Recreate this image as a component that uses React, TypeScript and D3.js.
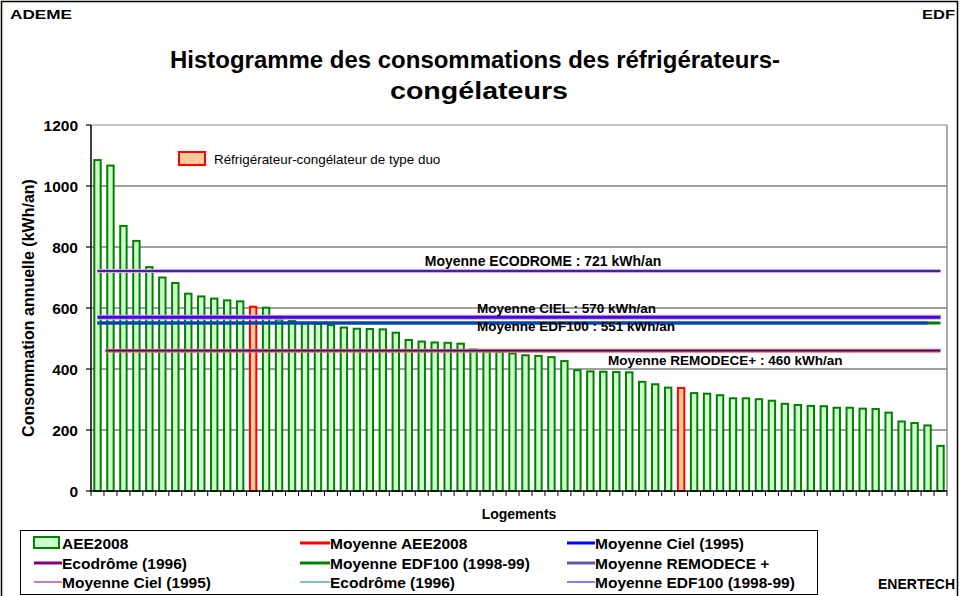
import React from "react";
import * as d3 from "d3";

const values: number[] = [
  1085, 1067, 869, 820, 734, 700, 682, 647, 638, 631, 625, 622, 604, 601, 562, 557,
  549, 548, 544, 536, 532, 531, 530, 519, 495, 490, 487, 486, 483, 464, 457, 456,
  451, 445, 443, 439, 426, 396, 392, 391, 390, 389, 358, 350, 339, 338, 321, 319,
  314, 304, 304, 301, 296, 286, 282, 279, 278, 273, 273, 270, 269, 257, 228, 223,
  215, 148,
];
const duoIndices: number[] = [12, 45];
const yTicks: number[] = [0, 200, 400, 600, 800, 1000, 1200];

const avgEcodrome = 721;
const avgCiel = 570;
const avgEdf100 = 551;
const avgRemodece = 460;

const legendRows: { label: string; kind: string; color: string }[][] = [
  [
    { label: "AEE2008", kind: "rect", color: "#008000" },
    { label: "Moyenne AEE2008", kind: "thick", color: "#ff0000" },
    { label: "Moyenne Ciel (1995)", kind: "thick", color: "#0000ff" },
  ],
  [
    { label: "Ecodrôme (1996)", kind: "thick", color: "#800080" },
    { label: "Moyenne EDF100 (1998-99)", kind: "thick", color: "#008000" },
    { label: "Moyenne REMODECE +", kind: "thick", color: "#5a5aa8" },
  ],
  [
    { label: "Moyenne Ciel (1995)", kind: "thin", color: "#800080" },
    { label: "Ecodrôme (1996)", kind: "thin", color: "#008080" },
    { label: "Moyenne EDF100 (1998-99)", kind: "thin", color: "#0000ff" },
  ],
];

const W = 960;
const H = 596;
const FONT = "'Liberation Sans', Arial, sans-serif";

export default function App() {
  const left = 91;
  const right = 947;
  const top = 125;
  const bottom = 491;

  const x = d3
    .scaleBand<number>()
    .domain(values.map((_, i) => i))
    .range([left, right])
    .padding(0);
  const y = d3.scaleLinear().domain([0, 1200]).range([bottom, top]);
  const bw = 6.4;
  const cx = (i: number) => (x(i) as number) + x.bandwidth() / 2;

  const firstC = cx(0);
  const lastC = cx(values.length - 1);
  const penultC = cx(values.length - 2);

  const legendSymX = [34, 300, 567];
  const legendTextX = [62, 330, 595];
  const legendRowY = [543, 563, 582];

  return (
    <svg
      width={W}
      height={H}
      style={{ position: "absolute", left: 0, top: 0, background: "#fff" }}
      fontFamily={FONT}
    >
      <rect x={1.5} y={1.5} width={956} height={620} fill="#fff" stroke="#000" strokeWidth={1.5} />

      <text x={10} y={19} fontSize={13} fontWeight="bold" textLength={62} lengthAdjust="spacingAndGlyphs">ADEME</text>
      <text x={922} y={19} fontSize={13} fontWeight="bold" textLength={33} lengthAdjust="spacingAndGlyphs">EDF</text>

      <text x={170} y={68} fontSize={23} fontWeight="bold" textLength={610} lengthAdjust="spacingAndGlyphs">
        Histogramme des consommations des réfrigérateurs-
      </text>
      <text x={390} y={99} fontSize={23} fontWeight="bold" textLength={178} lengthAdjust="spacingAndGlyphs">
        congélateurs
      </text>

      {/* gridlines */}
      {yTicks.filter((t) => t > 0).map((t) => (
        <line key={"g" + t} x1={left} x2={right} y1={y(t)} y2={y(t)}
          stroke={t === 1200 ? "#8c8c8c" : "#404040"} strokeWidth={1} />
      ))}
      <line x1={right} x2={right} y1={top} y2={bottom} stroke="#8c8c8c" strokeWidth={1.5} />

      {/* bars */}
      {values.map((v, i) => {
        const duo = duoIndices.includes(i);
        return (
          <rect key={"b" + i} x={cx(i) - bw / 2} y={y(v)} width={bw} height={bottom - y(v)}
            fill={duo ? "#ffcc99" : "#ccffcc"} stroke={duo ? "#ff0000" : "#008000"} strokeWidth={2} />
        );
      })}

      {/* average lines */}
      <line x1={firstC} x2={lastC} y1={y(avgEcodrome)} y2={y(avgEcodrome)} stroke="#e6a0e6" strokeWidth={4} />
      <line x1={firstC} x2={lastC} y1={y(avgEcodrome)} y2={y(avgEcodrome)} stroke="#3a2a96" strokeWidth={2} />

      <line x1={firstC} x2={lastC} y1={y(avgCiel)} y2={y(avgCiel)} stroke="#b8b0ff" strokeWidth={5} />
      <line x1={firstC} x2={lastC} y1={y(avgCiel)} y2={y(avgCiel)} stroke="#5000d0" strokeWidth={3} />

      <line x1={firstC} x2={lastC} y1={y(avgEdf100)} y2={y(avgEdf100)} stroke="#008000" strokeWidth={3} />
      <line x1={firstC} x2={penultC} y1={y(avgEdf100)} y2={y(avgEdf100)} stroke="#0040c0" strokeWidth={3} />

      <line x1={firstC + 8} x2={lastC} y1={y(avgRemodece)} y2={y(avgRemodece)} stroke="#ff6a6a" strokeWidth={4} />
      <line x1={firstC + 8} x2={lastC} y1={y(avgRemodece)} y2={y(avgRemodece)} stroke="#1a1a70" strokeWidth={1.8} />

      <text x={543} y={y(avgEcodrome) - 5} fontSize={14} fontWeight="bold" textAnchor="middle">
        Moyenne ECODROME : {avgEcodrome} kWh/an
      </text>
      <text x={477} y={y(avgCiel) - 4} fontSize={13.5} fontWeight="bold">
        Moyenne CIEL : {avgCiel} kWh/an
      </text>
      <text x={477} y={y(avgEdf100) + 8} fontSize={13.5} fontWeight="bold">
        Moyenne EDF100 : {avgEdf100} kWh/an
      </text>
      <text x={608} y={y(avgRemodece) + 14} fontSize={13.5} fontWeight="bold">
        Moyenne REMODECE+ : {avgRemodece} kWh/an
      </text>

      {/* axes */}
      <line x1={left} x2={left} y1={top} y2={bottom} stroke="#000" strokeWidth={1.5} />
      <line x1={left} x2={right} y1={bottom} y2={bottom} stroke="#000" strokeWidth={1.5} />
      {yTicks.map((t) => (
        <g key={"yt" + t}>
          <line x1={left - 5} x2={left} y1={y(t)} y2={y(t)} stroke="#000" strokeWidth={1.2} />
          <text x={left - 13} y={y(t) + 5.5} fontSize={15.5} fontWeight="bold" textAnchor="end">{t}</text>
        </g>
      ))}
      {values.map((_, i) => (
        <line key={"xt" + i} x1={x(i) as number} x2={x(i) as number} y1={bottom} y2={bottom + 5} stroke="#000" strokeWidth={1} />
      ))}
      <line x1={right} x2={right} y1={bottom} y2={bottom + 5} stroke="#000" strokeWidth={1} />

      <text transform={`translate(34,${(top + bottom) / 2}) rotate(-90)`} fontSize={16} fontWeight="bold" textAnchor="middle">
        Consommation annuelle (kWh/an)
      </text>
      <text x={519} y={519} fontSize={14} fontWeight="bold" textAnchor="middle">Logements</text>

      {/* duo legend */}
      <rect x={179} y={152} width={26} height={13} fill="#ffcc99" stroke="#ff0000" strokeWidth={2} />
      <text x={214} y={164} fontSize={13.4}>Réfrigérateur-congélateur de type duo</text>

      {/* bottom legend */}
      <rect x={20.5} y={530.5} width={797} height={64} fill="#fff" stroke="#000" strokeWidth={1} />
      {legendRows.map((row, r) =>
        row.map((e, c) => {
          const lx = legendSymX[c];
          const ly = legendRowY[r];
          return (
            <g key={`l${r}-${c}`}>
              {e.kind === "rect" ? (
                <rect x={lx} y={ly - 6} width={25} height={11} fill="#ccffcc" stroke={e.color} strokeWidth={2} />
              ) : (
                <line x1={lx} x2={legendTextX[c]} y1={ly} y2={ly} stroke={e.color} strokeWidth={e.kind === "thick" ? 3 : 1} />
              )}
              <text x={legendTextX[c]} y={ly + 5.5} fontSize={15.5} fontWeight="bold">{e.label}</text>
            </g>
          );
        })
      )}

      <text x={878} y={589} fontSize={14} fontWeight="bold">ENERTECH</text>
    </svg>
  );
}
